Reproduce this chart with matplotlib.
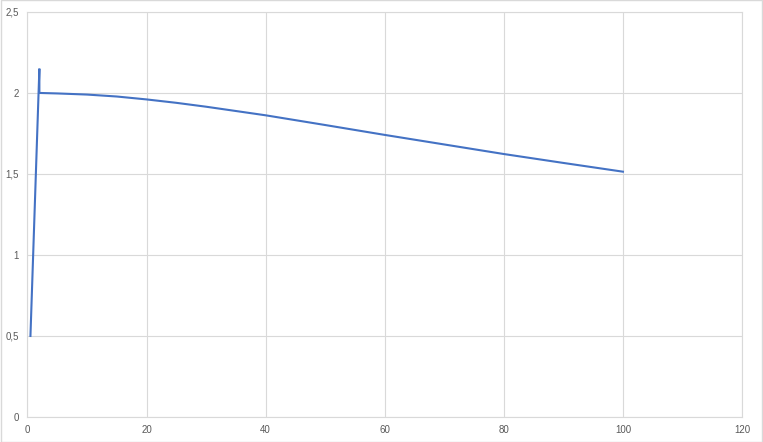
import matplotlib
matplotlib.use("Agg")
import matplotlib.pyplot as plt
from matplotlib.ticker import FuncFormatter

# values
x_vals = [0.5, 2, 2, 5, 10, 15, 20, 25, 30, 40, 50, 60, 70, 80, 90, 100]
y_vals = [0.5, 2.15, 2.0, 1.997, 1.99, 1.978, 1.96, 1.939, 1.915, 1.862, 1.802, 1.741, 1.682, 1.623, 1.568, 1.514]
x_ticks = [0, 20, 40, 60, 80, 100, 120]
y_ticks = [0, 0.5, 1, 1.5, 2, 2.5]

plt.rcParams['font.family'] = ['Liberation Sans', 'DejaVu Sans']

fig = plt.figure(figsize=(7.63, 4.42), dpi=100)
ax = fig.add_axes([0.036, 0.0566, 0.9365, 0.9164])

ax.plot(x_vals, y_vals, color='#4472C4', lw=1.5, solid_joinstyle='miter')

ax.set_xlim(0, 120)
ax.set_ylim(0, 2.5)
ax.set_xticks(x_ticks)
ax.set_yticks(y_ticks)
ax.yaxis.set_major_formatter(FuncFormatter(lambda v, p: ('%g' % v).replace('.', ',')))
ax.grid(True, color='#d9d9d9', lw=0.8)
ax.set_axisbelow(True)
for s in ax.spines.values():
    s.set_color('#d9d9d9')
    s.set_linewidth(0.8)
ax.tick_params(length=0, labelsize=7, colors='#595959', pad=6)

# chart area border
fig.patches.append(plt.Rectangle((0.001, 0.001), 0.998, 0.998, transform=fig.transFigure,
                                 fill=False, edgecolor='#d9d9d9', lw=1))

fig.savefig('out.png', dpi=100)
